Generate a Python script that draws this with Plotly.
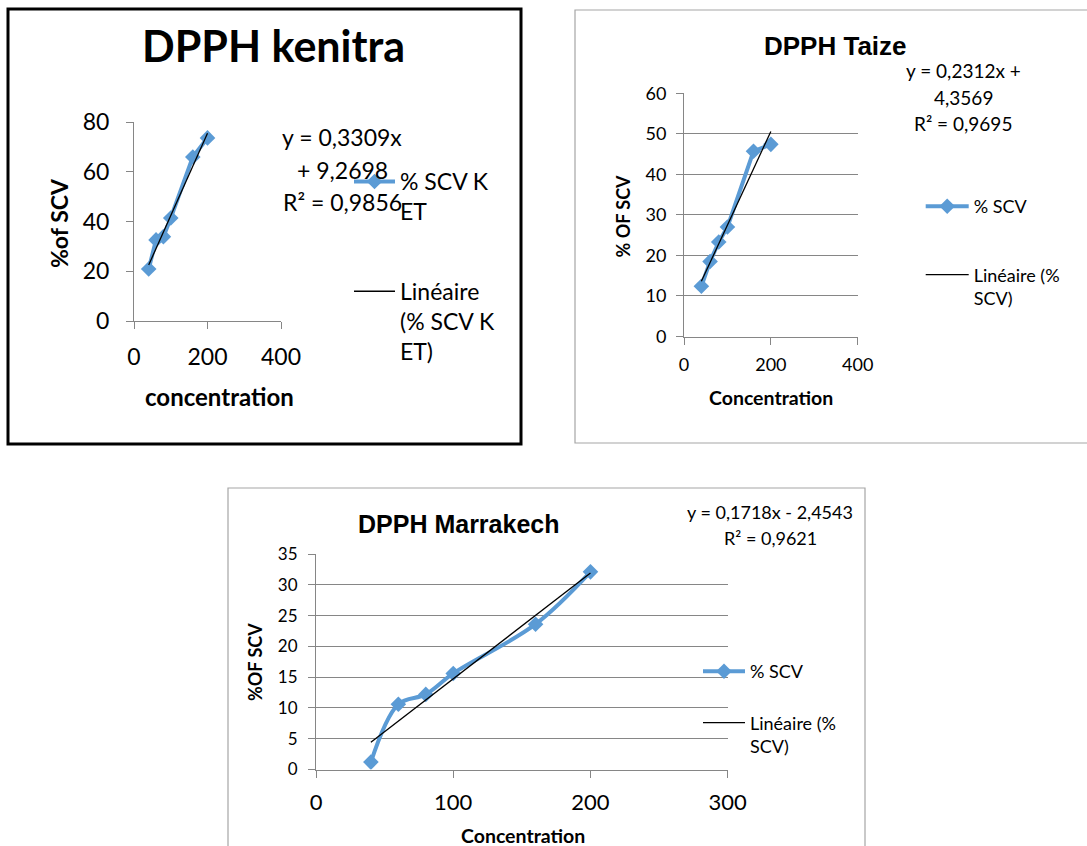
import plotly.graph_objects as go

W, H = 1087, 846
BLUE = "rgb(91,155,213)"
GRAY = "#868686"
FONT = "Lato"
TFONT = "Liberation Sans"

# ---------------- data ----------------
concentration = [40, 60, 80, 100, 160, 200]
scv_kenitra = [20.9, 32.6, 33.9, 41.4, 65.9, 73.6]
scv_taize = [12.4, 18.5, 23.3, 27.0, 45.7, 47.4]
scv_marrakech = [1.2, 10.6, 12.2, 15.6, 23.6, 32.1]

trend_kenitra = [0.3309, 9.2698]
trend_taize = [0.2312, 4.3569]
trend_marrakech = [0.1718, -2.4543]

eq_kenitra = ["y = 0,3309x", "+ 9,2698", "R² = 0,9856"]
eq_taize = ["y = 0,2312x +", "4,3569", "R² = 0,9695"]
eq_marrakech = ["y = 0,1718x - 2,4543", "R² = 0,9621"]

titles = ["DPPH kenitra", "DPPH Taize", "DPPH Marrakech"]
xtitles = ["concentration", "Concentration", "Concentration"]
ytitles = ["%of SCV", "% OF SCV", "%OF SCV"]
series_names = ["% SCV K<br>ET", "% SCV", "% SCV"]
trend_names = ["Linéaire<br>(% SCV K<br>ET)", "Linéaire (%<br>SCV)", "Linéaire (%<br>SCV)"]


def fx(px):
    return px / W


def fy(py):
    return 1 - py / H


fig = go.Figure()

datasets = [
    (scv_kenitra, trend_kenitra, "x", "y", "legend", "linear"),
    (scv_taize, trend_taize, "x2", "y2", "legend2", "linear"),
    (scv_marrakech, trend_marrakech, "x3", "y3", "legend3", "spline"),
]

for i, (vals, tr, xa, ya, lg, shape) in enumerate(datasets):
    fig.add_trace(go.Scatter(
        x=concentration, y=vals, xaxis=xa, yaxis=ya, legend=lg,
        name=series_names[i], legendgroup=f"s{i}", mode="lines+markers",
        line=dict(color=BLUE, width=4, shape=shape),
        marker=dict(symbol="diamond", size=12, color=BLUE),
    ))
    tx = [min(concentration), max(concentration)]
    ty = [tr[0] * v + tr[1] for v in tx]
    fig.add_trace(go.Scatter(
        x=tx, y=ty, xaxis=xa, yaxis=ya, legend=lg,
        name=trend_names[i], legendgroup=f"t{i}", mode="lines",
        line=dict(color="black", width=1.3),
    ))


def xaxis(d0, d1, rng, dtick, size, anchor, standoff):
    return dict(domain=[fx(d0), fx(d1)], range=rng, dtick=dtick, anchor=anchor,
                showline=True, linecolor=GRAY, linewidth=1, ticks="outside",
                ticklen=7, tickcolor=GRAY, showgrid=False, zeroline=False,
                ticklabelstandoff=standoff,
                tickfont=dict(family=FONT, size=size, color="black"))


def yaxis(top, bottom, rng, dtick, size, anchor, grid, standoff):
    return dict(domain=[fy(bottom), fy(top)], range=rng, dtick=dtick, anchor=anchor,
                showline=True, linecolor=GRAY, linewidth=1, ticks="outside",
                ticklen=7, tickcolor=GRAY, showgrid=grid, gridcolor=GRAY,
                gridwidth=1, zeroline=False, ticklabelstandoff=standoff,
                tickfont=dict(family=FONT, size=size, color="black"))


def legend(left, top, itemwidth, gap, size):
    return dict(x=fx(left), y=fy(top), xref="container", yref="container",
                xanchor="left", yanchor="top",
                bgcolor="rgba(0,0,0,0)", borderwidth=0, itemwidth=itemwidth,
                traceorder="grouped", tracegroupgap=gap, valign="top",
                font=dict(family=FONT, size=size, color="black"))


annotations = []


def text(t, x, y, size, family=FONT, bold=False, angle=0):
    annotations.append(dict(
        text=t, x=fx(x), y=fy(y), xref="paper", yref="paper",
        xanchor="center", yanchor="middle", showarrow=False, textangle=angle,
        font=dict(family=family, size=size, color="black",
                  weight="bold" if bold else "normal")))


# chart 1
text(titles[0], 273, 45, 43, bold=True)
text(ytitles[0], 59, 223, 23, bold=True, angle=-90)
text(xtitles[0], 219, 396, 24, bold=True)
for line, yy in zip(eq_kenitra, [137, 170, 202]):
    text(line, 342, yy, 23)

# chart 2
text(titles[1], 835, 46, 26, family=TFONT, bold=True)
text(ytitles[1], 622.5, 216, 18, bold=True, angle=-90)
text(xtitles[1], 771, 397, 19.5, bold=True)
for line, yy in zip(eq_taize, [70.7, 97.3, 123.3]):
    text(line, 963, yy, 19)

# chart 3
text(titles[2], 458.6, 524, 25, family=TFONT, bold=True)
text(ytitles[2], 255, 662, 18, bold=True, angle=-90)
text(xtitles[2], 522.5, 835, 19.5, bold=True)
for line, yy in zip(eq_marrakech, [511.7, 538.3]):
    text(line, 770, yy, 18)

shapes = [
    dict(type="rect", xref="paper", yref="paper", x0=fx(8), x1=fx(521), y0=fy(444), y1=fy(9),
         line=dict(color="black", width=3)),
    dict(type="rect", xref="paper", yref="paper", x0=fx(575), x1=fx(1100), y0=fy(443), y1=fy(10),
         line=dict(color="#a6a6a6", width=1.2)),
    dict(type="rect", xref="paper", yref="paper", x0=fx(228), x1=fx(865), y0=fy(870), y1=fy(488),
         line=dict(color="#a6a6a6", width=1.2)),
]

fig.update_layout(
    width=W, height=H, margin=dict(l=0, r=0, t=0, b=0, autoexpand=False),
    paper_bgcolor="white", plot_bgcolor="white", showlegend=True,
    xaxis=xaxis(134, 281, [0, 400], 200, 23, "y", 8),
    yaxis=yaxis(122, 321, [0, 80], 20, 23, "x", False, 12),
    xaxis2=xaxis(684, 857.7, [0, 400], 200, 18, "y2", 5),
    yaxis2=yaxis(93.3, 336.5, [0, 60], 10, 18, "x2", True, 6),
    xaxis3=xaxis(316, 727.7, [0, 300], 100, 22, "y3", 6),
    yaxis3=yaxis(554, 769.5, [0, 35], 5, 17, "x3", True, 7),
    legend=legend(349, 160, 41, 47, 23),
    legend2=legend(920.7, 188, 43, 42, 18),
    legend3=legend(698, 653, 42, 25, 18),
    annotations=annotations,
    shapes=shapes,
)

fig.write_html("out.html")
